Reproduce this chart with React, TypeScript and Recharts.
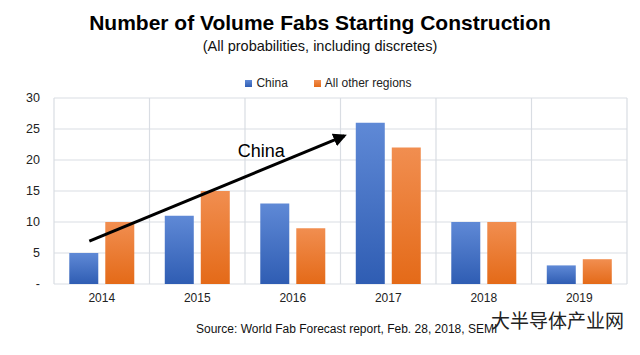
import React from "react";
import {
  BarChart,
  Bar,
  XAxis,
  YAxis,
  CartesianGrid,
  Legend,
  ReferenceLine,
  ReferenceDot,
} from "recharts";

const years = ["2014", "2015", "2016", "2017", "2018", "2019"];
const china = [5, 11, 13, 26, 10, 3];
const otherRegions = [10, 15, 9, 22, 10, 4];
const yTicks = [0, 5, 10, 15, 20, 25, 30];
const slotTicks = [0, 1, 2, 3, 4, 5, 6];
const seriesOrder = ["China", "All other regions"];

// arrow annotation, in (category slot, value) units
const arrowFrom = { x: 0.37, y: 6.9 };
const arrowTo = { x: 3.04, y: 23.9 };
const arrowLabel = { x: 2.17, y: 21.5, text: "China" };

const data = years.map((year, i) => ({
  year,
  slot: i + 0.5,
  China: china[i],
  "All other regions": otherRegions[i],
}));

const FONT = "'Liberation Sans', Arial, sans-serif";

export default function App() {
  return (
    <div
      style={{
        position: "absolute",
        left: 0,
        top: 0,
        width: 640,
        height: 355,
        background: "#fff",
        fontFamily: FONT,
        overflow: "hidden",
      }}
    >
      <div
        style={{
          position: "absolute",
          top: 11,
          width: 640,
          textAlign: "center",
          fontSize: 21,
          fontWeight: "bold",
          color: "#000",
        }}
      >
        Number of Volume Fabs Starting Construction
      </div>
      <div
        style={{
          position: "absolute",
          top: 38,
          width: 640,
          textAlign: "center",
          fontSize: 14.5,
          color: "#111",
        }}
      >
        (All probabilities, including discretes)
      </div>

      <div style={{ position: "absolute", left: 0, top: 0 }}>
        <BarChart
          width={640}
          height={355}
          data={data}
          margin={{ top: 84, right: 13, bottom: 41, left: 0 }}
          barCategoryGap="16%"
          barGap={7}
        >
          <defs>
            <linearGradient id="gBlue" x1="0" y1="0" x2="0" y2="1">
              <stop offset="0%" stopColor="#5f89d6" />
              <stop offset="100%" stopColor="#2f5db3" />
            </linearGradient>
            <linearGradient id="gOrange" x1="0" y1="0" x2="0" y2="1">
              <stop offset="0%" stopColor="#f18e50" />
              <stop offset="100%" stopColor="#e46a18" />
            </linearGradient>
            <marker
              id="arrowHead"
              viewBox="0 0 10 10"
              refX="8"
              refY="5"
              markerWidth="4.5"
              markerHeight="4.5"
              orient="auto"
            >
              <path d="M0,0 L10,5 L0,10 z" fill="#000" />
            </marker>
          </defs>
          <CartesianGrid xAxisId="slot" stroke="#d9dde3" strokeWidth={1.2} />
          <XAxis
            dataKey="year"
            axisLine={false}
            tickLine={false}
            tickSize={0}
            tickMargin={9}
            height={30}
            tick={{ fill: "#222", fontSize: 12, fontFamily: FONT }}
          />
          <XAxis
            xAxisId="slot"
            dataKey="slot"
            type="number"
            scale="linear"
            domain={[0, 6]}
            allowDataOverflow
            ticks={slotTicks}
            hide
          />
          <YAxis
            width={54}
            domain={[0, 30]}
            ticks={yTicks}
            axisLine={false}
            tickLine={false}
            tickSize={0}
            tickMargin={14}
            tickFormatter={(v: number) => (v === 0 ? "-" : String(v))}
            tick={{ fill: "#222", fontSize: 12.5, fontFamily: FONT }}
          />
          <Legend
            verticalAlign="top"
            align="center"
            iconType="square"
            iconSize={7}
            itemSorter={(item: any) => seriesOrder.indexOf(item.dataKey)}
            wrapperStyle={{
              top: 76,
              left: 28,
              fontSize: 12,
              fontFamily: FONT,
              color: "#222",
            }}
            formatter={(value: string) => (
              <span style={{ color: "#222", marginRight: 16 }}>{value}</span>
            )}
          />
          <Bar
            dataKey="China"
            fill="url(#gBlue)"
            legendType="square"
            isAnimationActive={false}
          />
          <Bar
            dataKey="All other regions"
            fill="url(#gOrange)"
            legendType="square"
            isAnimationActive={false}
          />
          <ReferenceLine
            xAxisId="slot"
            segment={[arrowFrom, arrowTo]}
            stroke="#000"
            strokeWidth={3}
            markerEnd="url(#arrowHead)"
            ifOverflow="visible"
          />
          <ReferenceDot
            xAxisId="slot"
            x={arrowLabel.x}
            y={arrowLabel.y}
            r={0}
            fill="none"
            stroke="none"
            ifOverflow="visible"
            label={{
              value: arrowLabel.text,
              position: "center",
              fill: "#000",
              fontSize: 18,
              fontFamily: FONT,
            }}
          />
        </BarChart>
      </div>

      <div
        style={{
          position: "absolute",
          top: 322,
          left: 196,
          fontSize: 12,
          color: "#111",
          whiteSpace: "nowrap",
        }}
      >
        Source: World Fab Forecast report, Feb. 28, 2018, SEMI
      </div>
      <div
        style={{
          position: "absolute",
          top: 306,
          left: 491,
          fontSize: 19,
          color: "#222",
          fontFamily: "'Noto Sans CJK SC', sans-serif",
          whiteSpace: "nowrap",
        }}
      >
        大半导体产业网
      </div>
    </div>
  );
}
